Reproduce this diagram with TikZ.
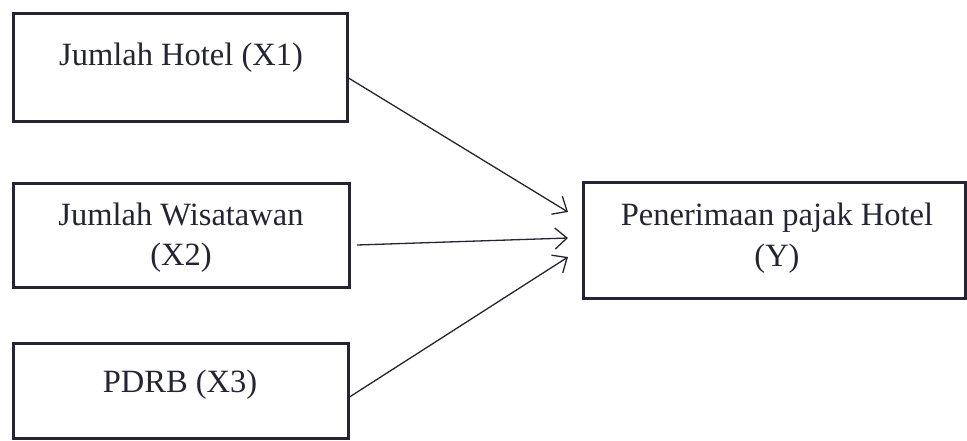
\documentclass[tikz,border=0pt]{standalone}
\usepackage{fontspec}
\setmainfont{Liberation Serif}
\usetikzlibrary{arrows.meta}
\definecolor{ink}{RGB}{36,36,52}
\begin{document}
\begin{tikzpicture}[x=1pt,y=-1pt,
  box/.style={draw=ink,line width=3pt,inner sep=0pt,rectangle},
  lbl/.style={anchor=base,inner sep=0pt,text=ink,font=\fontsize{32.5}{38}\selectfont},
  link/.style={draw=ink,line width=1.3pt,-{Straight Barb[length=12pt,width=21pt,line width=1.3pt]}}]
\useasboundingbox (0,0) rectangle (967,440);
% boxes
\node[box,minimum width=334pt,minimum height=108pt] (b1) at (180,67) {};
\node[box,minimum width=336pt,minimum height=104pt] (b2) at (181,235) {};
\node[box,minimum width=335pt,minimum height=95pt] (b3) at (180.5,390.5) {};
\node[box,minimum width=382pt,minimum height=116pt] (y) at (774,240) {};
% texts
\node[lbl] (t1) at (181,65) {Jumlah Hotel (X1)};
\node[lbl] (t2a) at (181,225) {Jumlah Wisatawan};
\node[lbl] (t2b) at (181,265) {(X2)};
\node[lbl] (t3) at (180,392) {PDRB (X3)};
\node[lbl] (tya) at (777,225) {Penerimaan pajak Hotel};
\node[lbl] (tyb) at (777,266) {(Y)};
% connector endpoints
\coordinate (s1) at (b1.east |- 0,78);
\coordinate (s2) at (357,245);
\coordinate (s3) at (b3.east |- 0,397);
\coordinate (e1) at (568,212);
\coordinate (e2) at (568,238);
\coordinate (e3) at (568,257);
\draw[link] (s1) -- (e1);
\draw[link] (s2) -- (e2);
\draw[link] (s3) -- (e3);
\end{tikzpicture}
\end{document}
